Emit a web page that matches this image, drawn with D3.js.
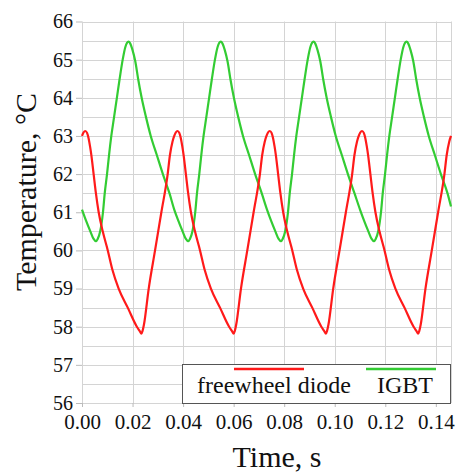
<!DOCTYPE html>
<html>
<head>
<meta charset="utf-8">
<script src="https://cdn.jsdelivr.net/npm/d3@7"></script>
<style>
  body { margin: 0; background: #fff; }
  svg text { font-family: "Liberation Serif", "Times New Roman", serif; fill: #111; }
</style>
</head>
<body>
<svg id="chart" width="456" height="472"></svg>
<script>
// freewheel diode temperature, [time s, degC]
const diodeTemp = [
  [0.0000, 63.00], [0.0006, 63.09], [0.0013, 63.13], [0.0020, 63.08], [0.0026, 62.94], [0.0032, 62.72],
  [0.0037, 62.50], [0.0046, 62.00], [0.0055, 61.50], [0.0066, 61.00], [0.0082, 60.50], [0.0102, 60.00],
  [0.0120, 59.50], [0.0145, 59.00], [0.0181, 58.50], [0.0217, 58.00], [0.0229, 57.88], [0.0235, 57.82],
  [0.0240, 57.90], [0.0245, 58.05], [0.0264, 59.00], [0.0289, 60.00], [0.0314, 61.00], [0.0339, 62.00],
  [0.0348, 62.50], [0.0358, 62.85],
  [0.0365, 63.00], [0.0371, 63.09], [0.0378, 63.13], [0.0385, 63.08], [0.0391, 62.94], [0.0397, 62.72],
  [0.0402, 62.50], [0.0411, 62.00], [0.0420, 61.50], [0.0431, 61.00], [0.0447, 60.50], [0.0467, 60.00],
  [0.0485, 59.50], [0.0510, 59.00], [0.0546, 58.50], [0.0582, 58.00], [0.0594, 57.88], [0.0600, 57.82],
  [0.0605, 57.90], [0.0610, 58.05], [0.0629, 59.00], [0.0654, 60.00], [0.0679, 61.00], [0.0704, 62.00],
  [0.0713, 62.50], [0.0723, 62.85],
  [0.0730, 63.00], [0.0736, 63.09], [0.0743, 63.13], [0.0750, 63.08], [0.0756, 62.94], [0.0762, 62.72],
  [0.0767, 62.50], [0.0776, 62.00], [0.0785, 61.50], [0.0796, 61.00], [0.0812, 60.50], [0.0832, 60.00],
  [0.0850, 59.50], [0.0875, 59.00], [0.0911, 58.50], [0.0947, 58.00], [0.0959, 57.88], [0.0965, 57.82],
  [0.0970, 57.90], [0.0975, 58.05], [0.0994, 59.00], [0.1019, 60.00], [0.1044, 61.00], [0.1069, 62.00],
  [0.1078, 62.50], [0.1088, 62.85],
  [0.1095, 63.00], [0.1101, 63.09], [0.1108, 63.13], [0.1115, 63.08], [0.1121, 62.94], [0.1127, 62.72],
  [0.1132, 62.50], [0.1141, 62.00], [0.1150, 61.50], [0.1161, 61.00], [0.1177, 60.50], [0.1197, 60.00],
  [0.1215, 59.50], [0.1240, 59.00], [0.1276, 58.50], [0.1312, 58.00], [0.1324, 57.88], [0.1330, 57.82],
  [0.1335, 57.90], [0.1340, 58.05], [0.1359, 59.00], [0.1384, 60.00], [0.1409, 61.00], [0.1434, 62.00],
  [0.1443, 62.50], [0.1453, 62.85], [0.1460, 63.00]
];

// IGBT temperature, [time s, degC]
const igbtTemp = [
  [0.0000, 61.07], [0.0016, 60.78], [0.0033, 60.50], [0.0046, 60.30], [0.0055, 60.24], [0.0062, 60.30],
  [0.0072, 60.50], [0.0083, 61.00], [0.0090, 61.50], [0.0099, 62.00], [0.0107, 62.50], [0.0116, 63.00],
  [0.0127, 63.50], [0.0138, 64.00], [0.0149, 64.50], [0.0161, 65.00], [0.0171, 65.32], [0.0178, 65.44],
  [0.0184, 65.47], [0.0191, 65.42], [0.0200, 65.25], [0.0211, 64.95], [0.0222, 64.50], [0.0236, 64.00],
  [0.0253, 63.50], [0.0272, 63.00], [0.0296, 62.50], [0.0320, 62.00], [0.0346, 61.50],
  [0.0365, 61.07], [0.0381, 60.78], [0.0398, 60.50], [0.0411, 60.30], [0.0420, 60.24], [0.0427, 60.30],
  [0.0437, 60.50], [0.0448, 61.00], [0.0455, 61.50], [0.0464, 62.00], [0.0472, 62.50], [0.0481, 63.00],
  [0.0492, 63.50], [0.0503, 64.00], [0.0514, 64.50], [0.0526, 65.00], [0.0536, 65.32], [0.0543, 65.44],
  [0.0549, 65.47], [0.0556, 65.42], [0.0565, 65.25], [0.0576, 64.95], [0.0587, 64.50], [0.0601, 64.00],
  [0.0618, 63.50], [0.0637, 63.00], [0.0661, 62.50], [0.0685, 62.00], [0.0711, 61.50],
  [0.0732, 61.07], [0.0748, 60.78], [0.0765, 60.50], [0.0778, 60.30], [0.0787, 60.24], [0.0794, 60.30],
  [0.0804, 60.50], [0.0815, 61.00], [0.0822, 61.50], [0.0831, 62.00], [0.0839, 62.50], [0.0848, 63.00],
  [0.0859, 63.50], [0.0870, 64.00], [0.0881, 64.50], [0.0893, 65.00], [0.0903, 65.32], [0.0910, 65.44],
  [0.0916, 65.47], [0.0923, 65.42], [0.0932, 65.25], [0.0943, 64.95], [0.0954, 64.50], [0.0968, 64.00],
  [0.0985, 63.50], [0.1004, 63.00], [0.1028, 62.50], [0.1052, 62.00], [0.1078, 61.50],
  [0.1100, 61.07], [0.1116, 60.78], [0.1133, 60.50], [0.1146, 60.30], [0.1155, 60.24], [0.1162, 60.30],
  [0.1172, 60.50], [0.1183, 61.00], [0.1190, 61.50], [0.1199, 62.00], [0.1207, 62.50], [0.1216, 63.00],
  [0.1227, 63.50], [0.1238, 64.00], [0.1249, 64.50], [0.1261, 65.00], [0.1271, 65.32], [0.1278, 65.44],
  [0.1284, 65.47], [0.1291, 65.42], [0.1300, 65.25], [0.1311, 64.95], [0.1322, 64.50], [0.1336, 64.00],
  [0.1353, 63.50], [0.1372, 63.00], [0.1396, 62.50], [0.1420, 62.00], [0.1446, 61.50], [0.1460, 61.15]
];

const xTicks = [0, 0.02, 0.04, 0.06, 0.08, 0.10, 0.12, 0.14];
const yTicks = [56, 57, 58, 59, 60, 61, 62, 63, 64, 65, 66];
const seriesNames = ["freewheel diode", "IGBT"];
const seriesColors = ["#ff1a1a", "#33cc33"];

const serif = '"Liberation Serif", "Times New Roman", serif';
const svg = d3.select("#chart");
const plot = { left: 82, right: 451, top: 21.5, bottom: 403 };

const x = d3.scaleLinear().domain([0, 0.146]).range([plot.left, plot.right]);
const y = d3.scaleLinear().domain([56, 66]).range([plot.bottom, plot.top]);

// grid: horizontal every 0.5, vertical every 0.02
const grid = svg.append("g").attr("stroke", "#d4d4d4").attr("stroke-width", 1);
grid.selectAll(".hg")
  .data(d3.range(56, 66.01, 0.5))
  .join("line")
  .attr("x1", plot.left).attr("x2", plot.right)
  .attr("y1", d => Math.round(y(d)) + 0.5).attr("y2", d => Math.round(y(d)) + 0.5);
grid.selectAll(".vg")
  .data(xTicks.concat([0.146]))
  .join("line")
  .attr("y1", plot.top).attr("y2", plot.bottom)
  .attr("x1", d => Math.round(x(d)) + 0.5).attr("x2", d => Math.round(x(d)) + 0.5);

// axes
const yAxis = svg.append("g")
  .attr("transform", `translate(${plot.left},0)`)
  .call(d3.axisLeft(y).tickValues(yTicks).tickFormat(d3.format("d")).tickSize(6).tickPadding(3));
const xAxis = svg.append("g")
  .attr("transform", `translate(0,${plot.bottom})`)
  .call(d3.axisBottom(x).tickValues(xTicks).tickFormat(d3.format(".2f")).tickSize(4).tickPadding(7));
[yAxis, xAxis].forEach(a => {
  a.attr("font-family", null);
  a.select(".domain").remove();
  a.selectAll(".tick line").attr("stroke", "#bbb");
  a.selectAll(".tick text").style("font-family", serif).attr("fill", "#111");
});
yAxis.selectAll(".tick text").style("font-size", "20px");
xAxis.selectAll(".tick text").style("font-size", "21px");

// lines
const line = d3.line()
  .x(d => x(d[0]))
  .y(d => y(d[1]))
  .curve(d3.curveMonotoneX);

svg.append("path")
  .datum(igbtTemp)
  .attr("fill", "none")
  .attr("stroke", seriesColors[1])
  .attr("stroke-width", 2.2)
  .attr("d", line);

svg.append("path")
  .datum(diodeTemp)
  .attr("fill", "none")
  .attr("stroke", seriesColors[0])
  .attr("stroke-width", 2.2)
  .attr("d", line);

// legend
const lg = svg.append("g");
lg.append("rect")
  .attr("x", 182.5).attr("y", 364.5).attr("width", 268).attr("height", 39)
  .attr("fill", "#fff").attr("stroke", "#555").attr("stroke-width", 1);
const legendItems = [
  { name: seriesNames[0], color: seriesColors[0], lx: 234, tx: 274 },
  { name: seriesNames[1], color: seriesColors[1], lx: 366, tx: 405 }
];
legendItems.forEach(it => {
  lg.append("line")
    .attr("x1", it.lx).attr("x2", it.lx + 70)
    .attr("y1", 369).attr("y2", 369)
    .attr("stroke", it.color).attr("stroke-width", 2.5);
  lg.append("text")
    .attr("x", it.tx).attr("y", 393)
    .attr("text-anchor", "middle")
    .style("font-size", "24px")
    .text(it.name);
});

// axis titles
svg.append("text")
  .attr("x", 277).attr("y", 467)
  .attr("text-anchor", "middle")
  .style("font-size", "30px")
  .text("Time, s");

svg.append("text")
  .attr("transform", "translate(36,192) rotate(-90)")
  .attr("text-anchor", "middle")
  .style("font-size", "30px")
  .text("Temperature, °C");
</script>
</body>
</html>
